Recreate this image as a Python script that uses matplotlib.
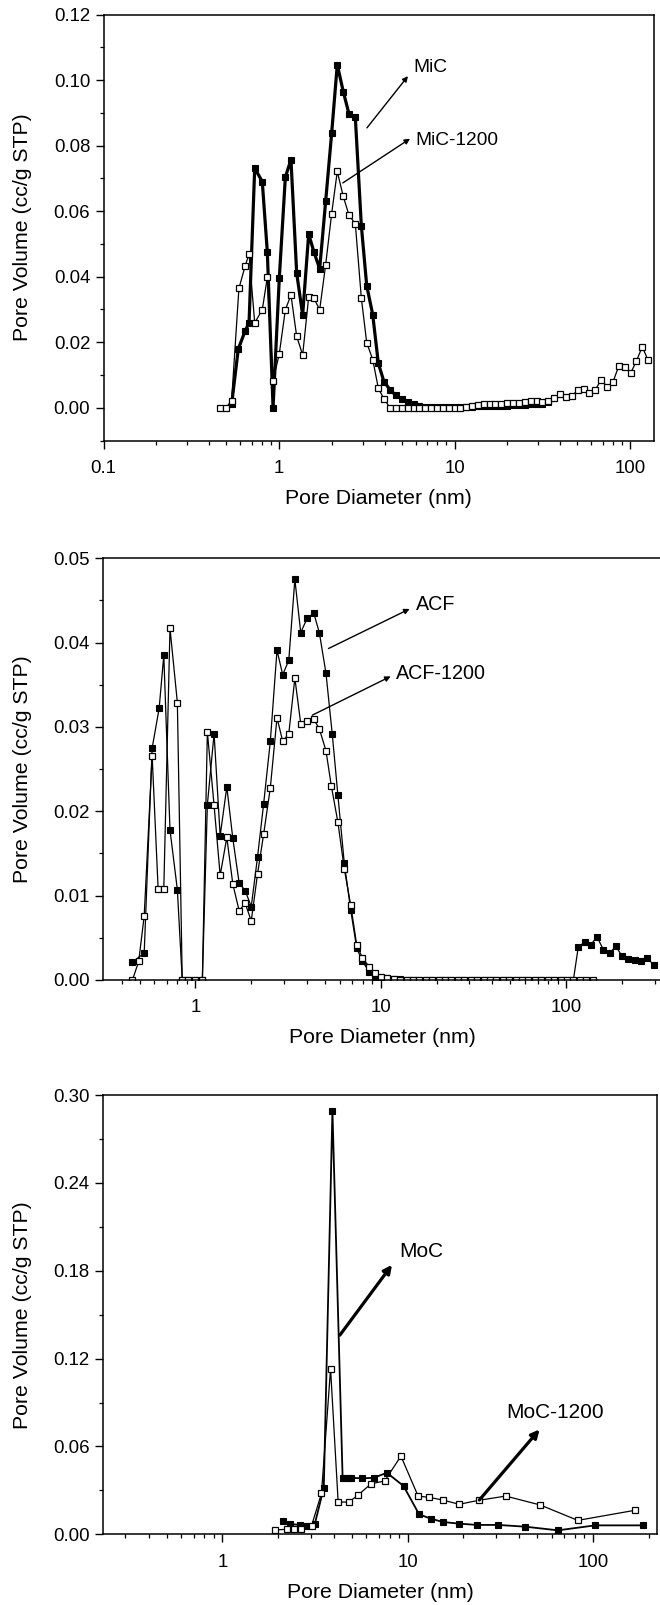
import matplotlib
matplotlib.use('Agg')
import matplotlib.pyplot as plt
from matplotlib.ticker import LogLocator, FixedLocator, MultipleLocator, NullFormatter, FuncFormatter

plt.rcParams['font.family'] = ['Liberation Sans', 'DejaVu Sans']

# ---- panel 1: MiC / MiC-1200 ----
mic_d = [0.537, 0.586, 0.640, 0.675, 0.727, 0.803, 0.858, 0.925, 1.004, 1.087, 1.170, 1.261,
         1.364, 1.476, 1.582, 1.705, 1.845, 1.995, 2.148, 2.323, 2.504, 2.722, 2.945, 3.16,
         3.42, 3.68, 3.96, 4.29, 4.63, 5.00, 5.40, 5.84, 6.30, 6.81, 7.35, 7.94, 8.58, 9.26,
         10.0, 10.8, 11.67, 12.6, 13.6, 14.7, 15.9, 17.1, 18.5, 20.0, 21.6, 23.3, 25.2, 27.2,
         29.4, 31.7, 34.3]
mic_v = [0.0010, 0.0179, 0.0233, 0.0259, 0.0731, 0.0690, 0.0475, 0.0, 0.0396, 0.0704, 0.0757,
         0.0411, 0.0283, 0.0530, 0.0475, 0.0424, 0.0631, 0.0837, 0.1047, 0.0965, 0.0897, 0.0886,
         0.0556, 0.0373, 0.0284, 0.0136, 0.0080, 0.0055, 0.0038, 0.0027, 0.0018, 0.0012, 0.0006,
         0.0003, 0.0002, 0.0001, 0.0001, 0.0001, 0.0001, 0.0001, 0.0002, 0.0003, 0.0004, 0.0004,
         0.0005, 0.0005, 0.0006, 0.0006, 0.0007, 0.0008, 0.0009, 0.0010, 0.0011, 0.0012, 0.0016]

mic1200_d = [0.461, 0.499, 0.537, 0.591, 0.640, 0.675, 0.727, 0.803, 0.858, 0.925, 1.004, 1.087,
             1.170, 1.261, 1.364, 1.476, 1.582, 1.705, 1.845, 1.995, 2.148, 2.323, 2.504, 2.722,
             2.945, 3.16, 3.42, 3.68, 3.96, 4.29, 4.63, 5.00, 5.40, 5.84, 6.30, 6.81, 7.35, 7.94,
             8.58, 9.26, 10.0, 10.8, 11.67, 12.6, 13.6, 14.7, 15.9, 17.1, 18.5, 20.0, 21.6, 23.3,
             25.2, 27.2, 29.4, 31.7, 34.3, 37.0, 40.0, 43.2, 46.6, 50.4, 54.4, 58.7, 63.4, 68.5,
             74.0, 79.9, 86.3, 93.2, 100.7, 108.7, 117.4, 126.8]
mic1200_v = [0.0, 0.0, 0.0022, 0.0364, 0.0431, 0.0469, 0.0259, 0.0299, 0.0398, 0.0082, 0.0165,
             0.0299, 0.0344, 0.0218, 0.0161, 0.0338, 0.0334, 0.0299, 0.0437, 0.0592, 0.0721,
             0.0645, 0.0588, 0.0561, 0.0335, 0.0199, 0.0147, 0.0060, 0.0027, 0.0, 0.0, 0.0, 0.0,
             0.0, 0.0, 0.0, 0.0, 0.0, 0.0, 0.0, 0.0, 0.0, 0.0003, 0.0006, 0.0009, 0.0010, 0.0011,
             0.0012, 0.0012, 0.0013, 0.0014, 0.0015, 0.0017, 0.0022, 0.0020, 0.0018, 0.0020,
             0.0030, 0.0041, 0.0034, 0.0036, 0.0054, 0.0058, 0.0046, 0.0054, 0.0086, 0.0064,
             0.0078, 0.0127, 0.0124, 0.0105, 0.0142, 0.0186, 0.0145]

# ---- panel 2: ACF / ACF-1200 ----
acf_d = [0.458, 0.530, 0.585, 0.638, 0.676, 0.730, 0.800, 0.850, 0.917, 1.0, 1.091, 1.161,
         1.262, 1.361, 1.478, 1.592, 1.723, 1.857, 2.002, 2.165, 2.335, 2.537, 2.756, 2.958,
         3.19, 3.44, 3.70, 4.01, 4.35, 4.66, 5.06, 5.47, 5.87, 6.35, 6.88, 7.41, 7.96, 8.65,
         9.32, 10.0, 10.83, 11.73, 12.7, 13.76, 14.9, 16.1, 17.5, 18.9, 20.5, 22.2, 24.0, 26.0,
         28.2, 30.5, 33.0, 35.8, 38.8, 42.0, 45.4, 49.2, 53.3, 57.7, 62.5, 67.7, 73.3, 79.4,
         86.0, 93.1, 100.8, 109.2, 116.0, 125.4, 135.5, 146.5, 158.4, 171.2, 185.1, 200.1,
         216.3, 233.8, 252.7, 273.2, 295.3]
acf_v = [0.0021, 0.0032, 0.0275, 0.0322, 0.0385, 0.0178, 0.0107, 0.0, 0.0, 0.0, 0.0, 0.0208,
         0.0292, 0.0171, 0.0229, 0.0168, 0.0115, 0.0106, 0.0087, 0.0146, 0.0209, 0.0283, 0.0391,
         0.0362, 0.0379, 0.0475, 0.0412, 0.0429, 0.0435, 0.0412, 0.0364, 0.0292, 0.0219, 0.0139,
         0.0083, 0.0038, 0.0022, 0.0010, 0.0004, 0.0002, 0.0002, 0.0001, 0.0001, 0.0, 0.0, 0.0,
         0.0, 0.0, 0.0, 0.0, 0.0, 0.0, 0.0, 0.0, 0.0, 0.0, 0.0, 0.0, 0.0, 0.0, 0.0, 0.0, 0.0,
         0.0, 0.0, 0.0, 0.0, 0.0, 0.0, 0.0, 0.0039, 0.0045, 0.0042, 0.0051, 0.0036, 0.0032,
         0.0040, 0.0028, 0.0025, 0.0024, 0.0022, 0.0026, 0.0018]

acf1200_d = [0.458, 0.495, 0.530, 0.585, 0.630, 0.676, 0.730, 0.800, 0.850, 0.917, 1.0, 1.091,
             1.161, 1.262, 1.361, 1.478, 1.592, 1.723, 1.857, 2.002, 2.165, 2.335, 2.537, 2.756,
             2.958, 3.19, 3.44, 3.70, 4.01, 4.35, 4.66, 5.06, 5.41, 5.87, 6.35, 6.88, 7.41, 7.96,
             8.65, 9.32, 10.0, 10.83, 11.73, 12.7, 13.76, 14.9, 16.1, 17.5, 18.9, 20.5, 22.2,
             24.0, 26.0, 28.2, 30.5, 33.0, 35.8, 38.8, 42.0, 45.4, 49.2, 53.3, 57.7, 62.5, 67.7,
             73.3, 79.4, 86.0, 93.1, 100.8, 109.2, 118.3, 128.1, 138.7]
acf1200_v = [0.0, 0.0022, 0.0076, 0.0266, 0.0108, 0.0108, 0.0417, 0.0329, 0.0, 0.0, 0.0, 0.0,
             0.0294, 0.0207, 0.0124, 0.0169, 0.0114, 0.0082, 0.0091, 0.0070, 0.0126, 0.0173,
             0.0228, 0.0311, 0.0283, 0.0292, 0.0358, 0.0304, 0.0307, 0.0309, 0.0298, 0.0272,
             0.0230, 0.0187, 0.0132, 0.0089, 0.0042, 0.0026, 0.0016, 0.0008, 0.0003, 0.0002,
             0.0001, 0.0, 0.0, 0.0, 0.0, 0.0, 0.0, 0.0, 0.0, 0.0, 0.0, 0.0, 0.0, 0.0, 0.0, 0.0,
             0.0, 0.0, 0.0, 0.0, 0.0, 0.0, 0.0, 0.0, 0.0, 0.0, 0.0, 0.0, 0.0, 0.0, 0.0, 0.0]

# ---- panel 3: MoC / MoC-1200 ----
moc_d = [2.13, 2.32, 2.63, 2.82, 3.16, 3.53, 3.93, 4.46, 4.74, 4.98, 5.68, 6.56, 7.74, 9.51,
         11.55, 13.35, 15.5, 18.9, 23.8, 30.8, 43.2, 64.8, 103, 187]
moc_v = [0.0091, 0.0068, 0.0066, 0.0057, 0.0073, 0.0318, 0.2893, 0.0386, 0.0386, 0.0386,
         0.0382, 0.0386, 0.0420, 0.0330, 0.0136, 0.0107, 0.0084, 0.0073, 0.0064, 0.0064,
         0.0052, 0.0027, 0.0061, 0.0061]

moc1200_d = [1.92, 2.23, 2.44, 2.65, 3.03, 3.43, 3.84, 4.22, 4.82, 5.41, 6.35, 7.52, 9.21,
             11.4, 13.1, 15.5, 19.0, 24.2, 33.9, 52.1, 83.0, 169]
moc1200_v = [0.0030, 0.0034, 0.0034, 0.0034, 0.0057, 0.0280, 0.1130, 0.0220, 0.0220, 0.0268,
             0.0345, 0.0364, 0.0534, 0.0261, 0.0252, 0.0234, 0.0205, 0.0232, 0.0261, 0.0200,
             0.0095, 0.0164]

W, H = 660, 1605
fig = plt.figure(figsize=(W / 100, H / 100), dpi=100)


def make_axes(left, right, top, bottom):
    return fig.add_axes([left / W, 1 - bottom / H, (right - left) / W, (bottom - top) / H])


def style(ax, xlim, ylim, ymajor, yminor, xticks, yfmt):
    ax.set_xscale('log')
    ax.set_xlim(*xlim)
    ax.set_ylim(*ylim)
    ax.xaxis.set_major_locator(FixedLocator(xticks))
    ax.xaxis.set_major_formatter(FuncFormatter(lambda v, p: ('%g' % v)))
    ax.xaxis.set_minor_locator(LogLocator(base=10, subs=range(2, 10), numticks=20))
    ax.xaxis.set_minor_formatter(NullFormatter())
    ax.yaxis.set_major_locator(MultipleLocator(ymajor))
    ax.yaxis.set_minor_locator(MultipleLocator(yminor))
    ax.yaxis.set_major_formatter(FuncFormatter(lambda v, p: yfmt % v))
    ax.tick_params(which='major', direction='out', length=5.5, width=1.0, labelsize=13.4,
                   top=False, right=False, pad=4)
    ax.tick_params(which='minor', direction='out', length=3.0, width=0.9, top=False, right=False)
    ax.tick_params(axis='x', which='major', pad=8.5)
    for s in ax.spines.values():
        s.set_linewidth(1.1)
    ax.set_xlabel('Pore Diameter (nm)', fontsize=15.3, labelpad=8.5)
    ax.set_ylabel('Pore Volume (cc/g STP)', fontsize=15.3)
    ax.yaxis.set_label_coords(-(ax.get_position().x0 * W - 32) / (ax.get_position().width * W), 0.5)


def series(ax, d, v, filled, lw):
    if filled:
        ax.plot(d, v, '-s', color='black', lw=lw, ms=4.9, mfc='black', mec='black', mew=0.8)
    else:
        ax.plot(d, v, '-s', color='black', lw=lw, ms=4.9, mfc='white', mec='black', mew=0.9)


def note(ax, text, start, end, textpos, lw, ms, fs):
    ax.annotate('', xy=end, xytext=start,
                arrowprops=dict(arrowstyle='-|>', lw=lw, color='black', mutation_scale=ms,
                                shrinkA=0, shrinkB=0))
    ax.text(textpos[0], textpos[1], text, fontsize=fs, ha='left', va='center')


# panel 1
ax1 = make_axes(103.5, 654, 14.5, 440.5)
series(ax1, mic_d, mic_v, True, 2.3)
series(ax1, mic1200_d, mic1200_v, False, 0.9)
style(ax1, (0.1, 137), (-0.01, 0.12), 0.02, 0.01, [0.1, 1, 10, 100], '%.2f')
note(ax1, 'MiC', (3.17, 0.0854), (5.43, 0.1012), (5.84, 0.1037), 1.0, 8, 13.8)
note(ax1, 'MiC-1200', (2.31, 0.0686), (5.58, 0.0821), (6.0, 0.0814), 1.0, 8, 13.8)

# panel 2
ax2 = make_axes(103.3, 661, 558.3, 980)
series(ax2, acf_d, acf_v, True, 0.9)
series(ax2, acf1200_d, acf1200_v, False, 0.9)
style(ax2, (0.319, 324), (0.0, 0.05), 0.01, 0.005, [1, 10, 100], '%.2f')
note(ax2, 'ACF', (5.22, 0.0393), (14.3, 0.0440), (15.4, 0.0445), 1.0, 8, 14.2)
note(ax2, 'ACF-1200', (4.27, 0.0314), (11.3, 0.0360), (12.0, 0.0364), 1.0, 8, 14.2)

# panel 3
ax3 = make_axes(102.7, 657.3, 1095, 1534.3)
series(ax3, moc_d, moc_v, True, 1.3)
series(ax3, moc1200_d, moc1200_v, False, 0.9)
style(ax3, (0.226, 223), (0.0, 0.30), 0.06, 0.03, [1, 10, 100], '%.2f')
note(ax3, 'MoC', (4.31, 0.136), (8.24, 0.184), (9.06, 0.193), 2.3, 12, 15.0)
note(ax3, 'MoC-1200', (24.4, 0.0234), (51.6, 0.0716), (33.9, 0.0834), 2.3, 12, 15.0)

fig.savefig('out.png', dpi=100)
